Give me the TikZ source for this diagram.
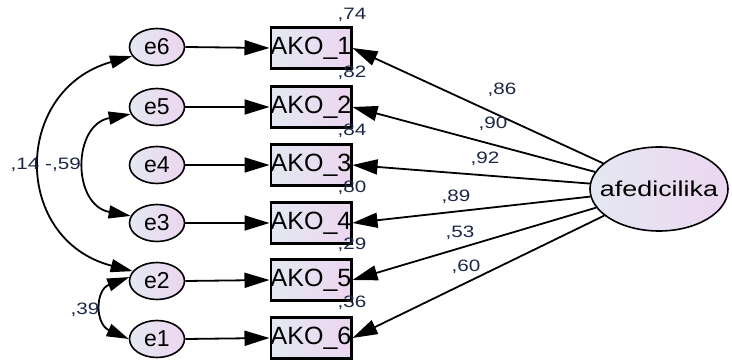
\documentclass[tikz,border=0pt]{standalone}
\usepackage{fontspec}
\setmainfont{Liberation Sans}
\newfontfamily\stretchfont[FakeStretch=1.25]{Liberation Sans}
\usetikzlibrary{arrows.meta,shapes.geometric}
\definecolor{fillL}{RGB}{228,232,242}
\definecolor{fillR}{RGB}{236,214,240}
\definecolor{numcol}{RGB}{30,40,70}
\begin{document}
\begin{tikzpicture}[x=1pt,y=-1pt,
  errnode/.style={ellipse, draw, line width=1.6pt, minimum width=55pt, minimum height=37pt, inner sep=0pt, left color=fillL, right color=fillR, font=\fontsize{23}{24}\selectfont},
  obsbox/.style={rectangle, draw, line width=2.4pt, minimum width=76pt, minimum height=41pt, inner sep=0pt, left color=fillL, right color=fillR, font=\fontsize{25}{25}\selectfont},
  latent/.style={ellipse, draw, line width=1.6pt, minimum width=138pt, minimum height=84pt, inner xsep=-14pt, inner ysep=0pt, left color=fillL, right color=fillR, font=\stretchfont\fontsize{21.5}{22}\selectfont},
  arr/.style={line width=1.8pt, -{Triangle[length=25pt,width=15pt]}},
  dblarr/.style={line width=1.8pt, {Triangle[length=22pt,width=13pt]}-{Triangle[length=22pt,width=13pt]}},
  num/.style={font=\stretchfont\fontsize{16.5}{17}\selectfont, text=numcol, inner sep=0pt}
]
\useasboundingbox[fill=white] (0,0) rectangle (732,363);

% error terms
\node[errnode] (e6) at (157,47) {e6};
\node[errnode] (e5) at (157,107) {e5};
\node[errnode] (e4) at (157,165) {e4};
\node[errnode] (e3) at (157,223) {e3};
\node[errnode] (e2) at (157,281) {e2};
\node[errnode] (e1) at (157,339) {e1};

% observed
\node[obsbox] (a1) at (311,48) {AKO\_1};
\node[obsbox] (a2) at (311,107) {AKO\_2};
\node[obsbox] (a3) at (311,165) {AKO\_3};
\node[obsbox] (a4) at (311,223) {AKO\_4};
\node[obsbox] (a5) at (311,280) {AKO\_5};
\node[obsbox] (a6) at (311,338) {AKO\_6};

% latent
\node[latent] (af) at (659,189) {afedicilika};

% error arrows
\draw[arr] (e6.east) -- (a1.west);
\draw[arr] (e5.east) -- (a2.west);
\draw[arr] (e4.east) -- (a3.west);
\draw[arr] (e3.east) -- (a4.west);
\draw[arr] (e2.east) -- (a5.west);
\draw[arr] (e1.east) -- (a6.west);
% loadings
\foreach \i in {1,...,6} {
  \draw[arr] (af) -- (a\i.east);
}

% covariances
\draw[dblarr] (e6.200) .. controls (12,90) and (12,240) .. (e2.158);
\draw[dblarr] (e5.195) .. controls (72,125) and (72,205) .. (e3.165);
\draw[dblarr] (e2.172) .. controls (95,290) and (95,324) .. (e1.180);

% squared multiple correlations
\node[num] (r1) at (352,15) {,74};
\node[num] (r2) at (352,73) {,82};
\node[num] (r3) at (352,131) {,84};
\node[num] (r4) at (352,188) {,80};
\node[num] (r5) at (352,245) {,29};
\node[num] (r6) at (352,303) {,36};

% loadings labels
\node[num] (l1) at (502,90) {,86};
\node[num] (l2) at (493,124) {,90};
\node[num] (l3) at (485,159) {,92};
\node[num] (l4) at (456,197) {,89};
\node[num] (l5) at (460,233) {,53};
\node[num] (l6) at (466,267) {,60};

% covariance labels
\node[num] (c1) at (25,165) {,14};
\node[num] (c2) at (63,165) {-,59};
\node[num] (c3) at (85,310) {,39};
\end{tikzpicture}
\end{document}
